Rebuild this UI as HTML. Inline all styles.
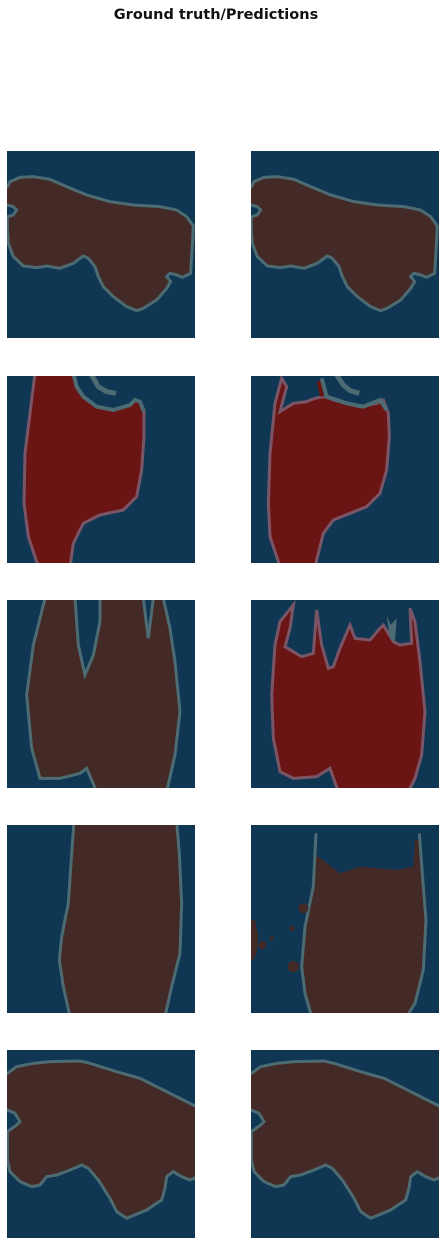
<!DOCTYPE html>
<html><head><meta charset="utf-8"><style>
html,body{margin:0;padding:0;background:#fff;width:445px;height:1245px;overflow:hidden}
svg{display:block}
text{font-family:"DejaVu Sans","Liberation Sans",sans-serif}
</style></head><body>
<svg width="445" height="1245" viewBox="0 0 445 1245">
<defs>
<clipPath id="cL1"><rect x="21" y="33" width="564" height="561"/></clipPath>
<clipPath id="cR1"><rect x="753" y="33" width="564" height="561"/></clipPath>
<clipPath id="cL2"><rect x="21" y="18" width="564" height="561"/></clipPath>
<clipPath id="cR2"><rect x="753" y="18" width="564" height="561"/></clipPath>
<clipPath id="cL3"><rect x="21" y="15" width="564" height="564"/></clipPath>
<clipPath id="cR3"><rect x="753" y="15" width="564" height="564"/></clipPath>
</defs>
<text x="216" y="19" text-anchor="middle" font-size="14.5" font-weight="bold" fill="#111">Ground truth/Predictions</text>

<g fill="#0f3753">
<rect x="7" y="151" width="188" height="187"/><rect x="251" y="151" width="188" height="187"/>
<rect x="7" y="376" width="188" height="187"/><rect x="251" y="376" width="188" height="187"/>
<rect x="7" y="600" width="188" height="188"/><rect x="251" y="600" width="188" height="188"/>
<rect x="7" y="825" width="188" height="188"/><rect x="251" y="825" width="188" height="188"/>
<rect x="7" y="1050" width="188" height="188"/><rect x="251" y="1050" width="188" height="188"/>
</g>

<!-- Row 1 -->
<g transform="translate(7,151) scale(0.3333) translate(-21,-33)" clip-path="url(#cL1)">
<polygon id="s1" points="22,140 30,125 60,112 100,110 150,118 200,140 260,165 330,185 400,195 480,200 530,210 560,230 580,258 578,300 575,350 572,400 548,412 530,405 510,400 500,410 512,425 500,445 470,480 430,505 410,512 380,500 340,470 310,440 295,410 285,380 265,355 250,348 240,355 220,370 180,385 140,378 110,383 70,378 40,350 25,310 22,270 22,230 40,225 50,210 40,200 22,195 10,195 10,140" fill="#442a27" stroke="#4c6b72" stroke-width="9"/>
</g>
<g transform="translate(251,151) scale(0.3333) translate(-21,-33)" clip-path="url(#cL1)">
<use href="#s1"/>
</g>

<!-- Row 2 -->
<g transform="translate(7,376) scale(0.3333) translate(-21,-18)" clip-path="url(#cL2)">
<polygon points="105,10 220,10 230,50 250,80 290,110 340,120 390,105 405,90 420,95 432,125 432,200 425,300 410,380 370,420 300,435 250,460 220,520 210,590 115,590 85,500 72,400 75,250" fill="#6a1414" stroke="#7a5566" stroke-width="9"/>
<polyline points="220,10 230,50 250,80 290,110 340,120 390,105 405,90 420,95 432,125" fill="none" stroke="#4c6b72" stroke-width="12"/>
<polyline points="275,15 295,50 320,65 348,70" fill="none" stroke="#4c6b72" stroke-width="15"/>
</g>
<g transform="translate(251,376) scale(0.3333) translate(-753,-18)" clip-path="url(#cR2)">
<polygon points="845,25 860,50 840,125 880,100 920,95 945,85 975,80 1000,90 1040,100 1080,110 1130,100 1150,90 1165,130 1168,200 1160,300 1140,370 1100,410 1050,430 1000,450 970,490 945,590 840,590 810,500 805,400 810,250 825,100" fill="#6a1414" stroke="#7a5566" stroke-width="9"/>
<polygon points="950,35 962,32 972,78 960,80" fill="#6a1414"/>
<polyline points="965,25 980,80 1040,100 1090,110 1140,90 1160,120" fill="none" stroke="#4c6b72" stroke-width="12"/>
<polyline points="1010,15 1030,45 1050,62 1078,70" fill="none" stroke="#4c6b72" stroke-width="15"/>
</g>

<!-- Row 3 -->
<g transform="translate(7,600) scale(0.3333) translate(-21,-15)" clip-path="url(#cL3)">
<polygon points="135,10 225,10 235,150 255,240 280,180 300,80 300,10 430,10 445,130 460,10 490,10 510,100 525,200 540,350 525,480 500,590 290,590 260,520 240,535 180,550 120,550 95,460 80,300 100,150" fill="#442a27" stroke="#4c6b72" stroke-width="9"/>
</g>
<g transform="translate(251,600) scale(0.3333) translate(-753,-15)" clip-path="url(#cR3)">
<polygon points="880,30 870,100 855,155 880,170 905,185 940,175 950,45 965,150 985,220 1000,215 1020,160 1050,90 1065,130 1110,135 1140,100 1150,90 1180,140 1200,150 1235,145 1230,40 1245,80 1260,200 1275,350 1265,480 1245,550 1225,590 1015,590 990,520 950,545 880,550 840,530 820,430 815,300 825,150 840,80" fill="#6a1414" stroke="#7a5566" stroke-width="9"/>
<polygon points="1160,60 1172,90 1190,70 1185,140 1170,130" fill="#4c6b72"/>
</g>

<!-- Row 4 -->
<g transform="translate(7,825) scale(0.3333) translate(-21,-15)" clip-path="url(#cL3)">
<polygon points="222,5 530,5 538,100 545,250 540,400 515,500 495,590 210,590 190,500 178,420 185,350 205,250 215,100" fill="#442a27" stroke="#4c6b72" stroke-width="9"/>
</g>
<g transform="translate(251,825) scale(0.3333) translate(-753,-15)" clip-path="url(#cR3)">
<polygon points="955,110 1020,160 1080,140 1190,150 1240,140 1245,60 1260,60 1270,200 1278,300 1270,450 1245,550 1220,590 935,590 915,520 905,440 915,320 935,200 945,110" fill="#442a27"/>
<polyline points="948,40 940,200 915,320 905,440 915,520 935,590" fill="none" stroke="#4c6b72" stroke-width="9"/>
<polyline points="1258,40 1270,200 1278,300 1270,450 1245,550 1220,590" fill="none" stroke="#4c6b72" stroke-width="9"/>
<g fill="#442a27">
<circle cx="910" cy="265" r="15"/><circle cx="880" cy="440" r="17"/><circle cx="875" cy="325" r="8"/>
<circle cx="815" cy="355" r="6"/><circle cx="787" cy="375" r="12"/>
<polygon points="753,300 765,300 775,350 770,400 760,420 753,420"/>
</g>
</g>

<!-- Row 5 -->
<g transform="translate(7,1050) scale(0.3333) translate(-21,-15)" clip-path="url(#cL3)">
<polygon id="s5" points="10,85 22,85 50,65 100,55 150,50 240,48 270,55 350,80 420,100 480,130 595,188 595,395 570,405 545,395 520,380 500,395 495,430 485,465 440,495 380,520 350,500 330,460 295,405 265,370 245,360 210,375 170,390 140,395 120,420 95,425 60,410 30,380 22,345 22,260 50,240 60,230 45,205 22,195 10,195" fill="#442a27" stroke="#4c6b72" stroke-width="9"/>
</g>
<g transform="translate(251,1050) scale(0.3333) translate(-21,-15)" clip-path="url(#cL3)">
<use href="#s5"/>
</g>
</svg>
</body></html>
